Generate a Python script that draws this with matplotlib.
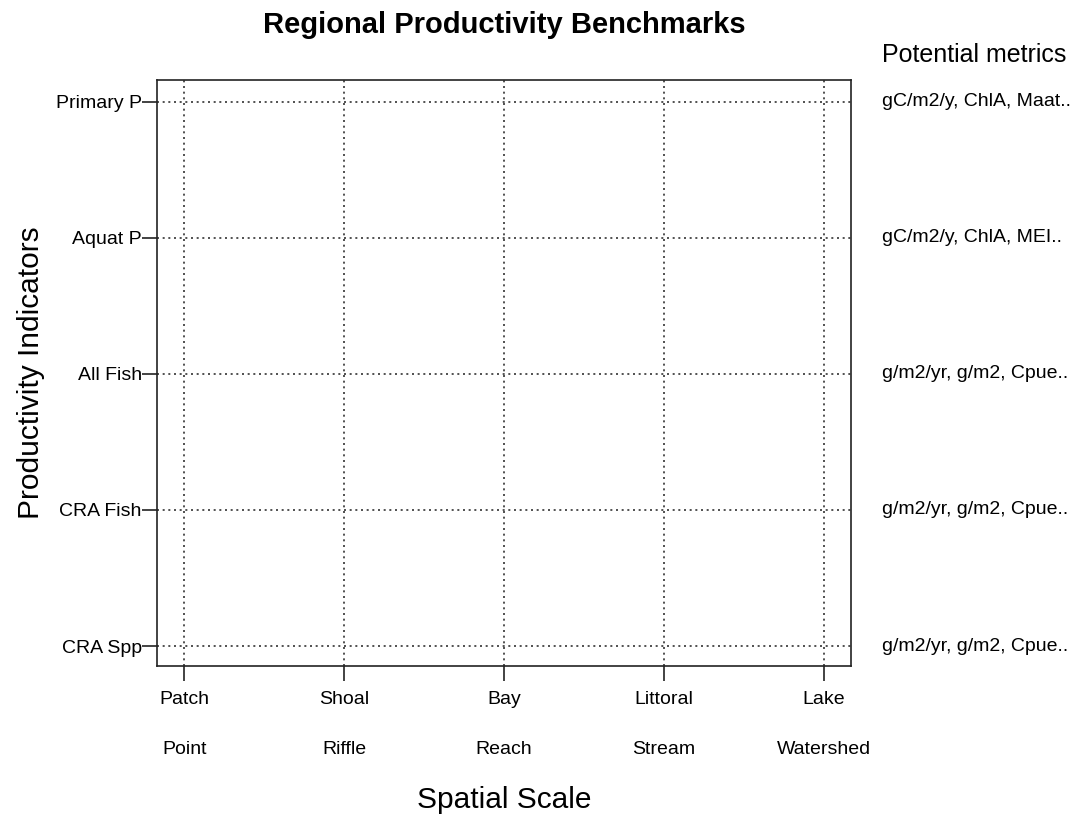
import matplotlib.pyplot as plt

plt.rcParams['font.family'] = ['Liberation Sans', 'DejaVu Sans']

scales = ['Patch', 'Shoal', 'Bay', 'Littoral', 'Lake']
stream_scales = ['Point', 'Riffle', 'Reach', 'Stream', 'Watershed']
indicators = ['CRA Spp', 'CRA Fish', 'All Fish', 'Aquat P', 'Primary P']
metrics = ['g/m2/yr, g/m2, Cpue..', 'g/m2/yr, g/m2, Cpue..', 'g/m2/yr, g/m2, Cpue..',
           'gC/m2/y, ChlA, MEI..', 'gC/m2/y, ChlA, Maat..']

xpos = list(range(1, len(scales) + 1))
ypos = list(range(1, len(indicators) + 1))

fig = plt.figure(figsize=(10.75, 8.15), dpi=100)
ax = fig.add_axes([0.146, 0.1828, 0.6456, 0.719])
ax.set_xlim(0.83, 5.17)
ax.set_ylim(0.853, 5.16)

for x in xpos:
    ax.axvline(x, color='#333333', lw=1.2, ls=(0, (1.2, 2.2)))
for y in ypos:
    ax.axhline(y, color='#333333', lw=1.2, ls=(0, (1.2, 2.2)))

ax.set_xticks(xpos)
ax.set_xticklabels(scales, fontsize=14)
ax.set_yticks(ypos)
ax.set_yticklabels(indicators, fontsize=14)
ax.tick_params(axis='x', length=11, width=1.2, pad=7, color='#222222')
ax.tick_params(axis='y', length=11, width=1.2, pad=0, color='#222222')
for sp in ax.spines.values():
    sp.set_linewidth(1.2)
    sp.set_color('#222222')

for x, lab in zip(xpos, stream_scales):
    ax.annotate(lab, xy=(x, 0), xycoords=('data', 'axes fraction'),
                xytext=(0, -60), textcoords='offset points',
                ha='center', va='center', fontsize=14)

for y, lab in zip(ypos, metrics):
    ax.annotate(lab, xy=(1, y), xycoords=('axes fraction', 'data'),
                xytext=(22, 0), textcoords='offset points',
                ha='left', va='center', fontsize=14)

ax.annotate('Potential metrics', xy=(1, 1), xycoords='axes fraction',
            xytext=(22, 18), textcoords='offset points',
            ha='left', va='center', fontsize=18)

ax.set_title('Regional Productivity Benchmarks', fontsize=21,
             fontweight='bold', pad=34)
ax.set_xlabel('Spatial Scale', fontsize=21.5, labelpad=56)
ax.set_ylabel('Productivity Indicators', fontsize=21.5, labelpad=8)

fig.savefig('out.png', dpi=100)
